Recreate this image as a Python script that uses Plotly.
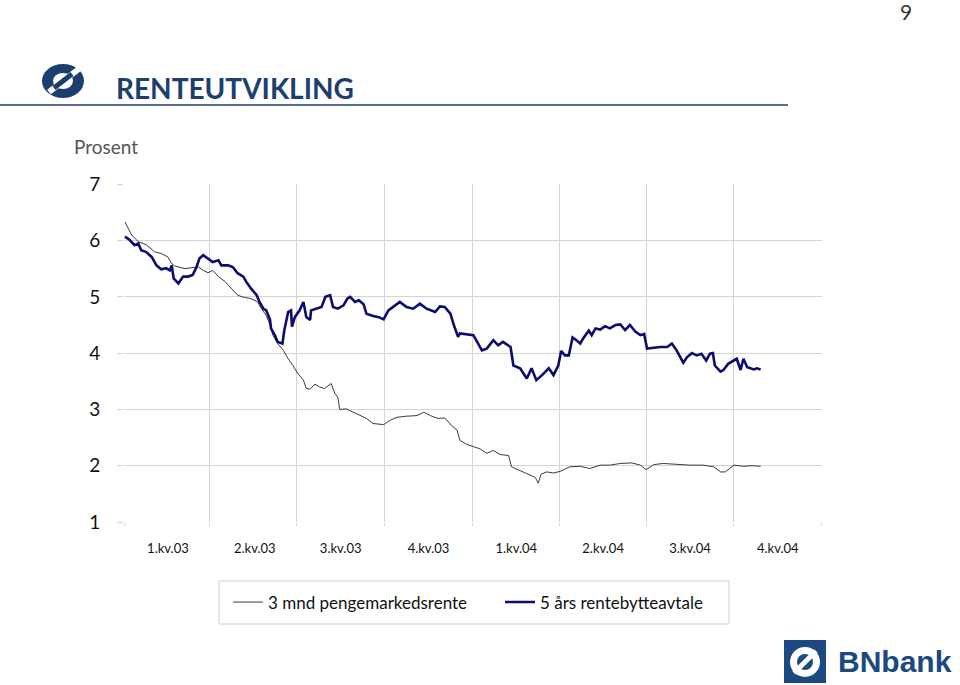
import plotly.graph_objects as go
import pandas as pd

# ---------------- data ----------------
BASE_DATE = "2003-01-01"

# 3 mnd pengemarkedsrente: days since 1 Jan 2003, and percent
mm3_days = [1, 8, 15, 23, 32, 39, 46, 50, 53, 64, 71, 78, 83, 88, 93, 99, 106, 112, 119, 126,
            133, 140, 144, 149, 153, 156, 161, 167, 172, 177, 182, 188, 191, 195, 200, 205, 210, 217, 221, 224,
            226, 233, 240, 247, 254, 261, 272, 279, 286, 296, 307, 314, 321, 329, 336, 343, 349, 352, 359, 366,
            373, 380, 387, 394, 403, 406, 415, 422, 431, 434, 437, 443, 450, 457, 467, 478, 488, 499, 509, 520,
            532, 541, 547, 555, 565, 579, 593, 607, 618, 625, 630, 639, 649, 658, 667]
mm3_vals = [6.33, 6.10, 5.98, 5.93, 5.80, 5.77, 5.71, 5.59, 5.55, 5.50, 5.52, 5.53, 5.47, 5.43, 5.47, 5.36, 5.27, 5.15, 5.03, 4.99,
            4.97, 4.91, 4.79, 4.67, 4.50, 4.32, 4.17, 4.05, 3.90, 3.78, 3.64, 3.52, 3.37, 3.36, 3.45, 3.40, 3.37, 3.46, 3.28, 3.22,
            3.00, 3.01, 2.95, 2.89, 2.84, 2.75, 2.73, 2.81, 2.86, 2.88, 2.89, 2.95, 2.89, 2.84, 2.85, 2.72, 2.63, 2.45, 2.38, 2.34,
            2.30, 2.22, 2.27, 2.20, 2.18, 1.98, 1.92, 1.86, 1.79, 1.69, 1.85, 1.89, 1.87, 1.90, 1.98, 1.99, 1.95, 2.01, 2.01, 2.04,
            2.05, 2.01, 1.93, 2.02, 2.04, 2.02, 2.01, 2.01, 1.98, 1.89, 1.89, 2.01, 1.99, 2.00, 1.99]

# 5 års rentebytteavtale
swap_days = [1, 6, 11, 15, 18, 23, 29, 34, 39, 44, 48, 50, 52, 57, 62, 67, 72, 76, 79, 83,
             88, 93, 99, 102, 109, 114, 119, 125, 128, 133, 139, 142, 146, 149, 153, 154, 158, 161, 166, 168,
             172, 175, 176, 179, 184, 188, 191, 195, 196, 202, 207, 211, 216, 219, 224, 230, 234, 237, 242, 246,
             251, 254, 261, 267, 272, 277, 282, 289, 296, 303, 310, 317, 326, 331, 336, 342, 345, 350, 352, 359,
             366, 369, 375, 380, 387, 392, 397, 405, 408, 415, 422, 427, 432, 438, 445, 450, 455, 458, 462, 466,
             470, 474, 478, 481, 487, 490, 494, 499, 504, 509, 515, 520, 525, 530, 536, 541, 545, 548, 555, 562,
             569, 574, 579, 583, 586, 590, 595, 600, 605, 610, 614, 617, 619, 625, 628, 633, 639, 642, 646, 649,
             653, 660, 663, 667]
swap_vals = [6.07, 6.01, 5.92, 5.95, 5.83, 5.80, 5.71, 5.56, 5.49, 5.51, 5.47, 5.56, 5.33, 5.24, 5.36, 5.36, 5.39, 5.53, 5.68, 5.74,
             5.68, 5.62, 5.65, 5.56, 5.56, 5.53, 5.42, 5.36, 5.27, 5.15, 5.03, 4.91, 4.79, 4.76, 4.59, 4.44, 4.32, 4.20, 4.17, 4.41,
             4.73, 4.76, 4.47, 4.64, 4.76, 4.91, 4.64, 4.59, 4.76, 4.79, 4.82, 5.00, 5.03, 4.82, 4.79, 4.85, 4.97, 5.00, 4.91, 4.94,
             4.87, 4.70, 4.66, 4.64, 4.60, 4.76, 4.82, 4.91, 4.82, 4.79, 4.88, 4.79, 4.73, 4.83, 4.82, 4.70, 4.53, 4.29, 4.35, 4.34,
             4.32, 4.23, 4.05, 4.08, 4.23, 4.14, 4.20, 4.11, 3.78, 3.73, 3.55, 3.73, 3.52, 3.61, 3.73, 3.61, 3.78, 4.04, 3.96, 3.96,
             4.28, 4.23, 4.17, 4.26, 4.40, 4.32, 4.44, 4.42, 4.48, 4.44, 4.50, 4.51, 4.41, 4.50, 4.38, 4.32, 4.34, 4.08, 4.10, 4.11,
             4.11, 4.17, 4.05, 3.93, 3.83, 3.93, 4.00, 3.96, 3.99, 3.87, 3.99, 4.00, 3.78, 3.67, 3.70, 3.81, 3.87, 3.90, 3.70, 3.90,
             3.75, 3.71, 3.73, 3.71]

quarter_starts = ["2003-01-01", "2003-04-01", "2003-07-01", "2003-10-01", "2004-01-01",
                  "2004-04-01", "2004-07-01", "2004-10-01", "2005-01-01"]
quarter_mids = ["2003-02-16", "2003-05-18", "2003-08-16", "2003-11-16",
                "2004-02-16", "2004-05-17", "2004-08-16", "2004-11-16"]
quarter_labels = ["1.kv.03", "2.kv.03", "3.kv.03", "4.kv.03",
                  "1.kv.04", "2.kv.04", "3.kv.04", "4.kv.04"]
y_ticks = [1, 2, 3, 4, 5, 6, 7]

series_names = ["3 mnd pengemarkedsrente", "5 års rentebytteavtale"]

# ---------------- figure ----------------
W, H = 960, 685
FONT = "Lato, 'Open Sans', sans-serif"
NAVY = "#1d3f70"
GRID = "#d4d4d4"


def fx(px):
    return px / W


def fy(py):
    return 1 - py / H


base = pd.Timestamp(BASE_DATE)
mm3_dates = base + pd.to_timedelta(mm3_days, unit="D")
swap_dates = base + pd.to_timedelta(swap_days, unit="D")

fig = go.Figure()
fig.add_trace(go.Scatter(x=mm3_dates, y=mm3_vals, mode="lines", name=series_names[0],
                         line=dict(color="#3a3a3a", width=1)))
fig.add_trace(go.Scatter(x=swap_dates, y=swap_vals, mode="lines", name=series_names[1],
                         line=dict(color="#0b0b70", width=2.6)))
# helper trace so the label axis is drawn
fig.add_trace(go.Scatter(x=[quarter_starts[0], quarter_starts[-1]], y=[None, None], xaxis="x2",
                         mode="lines", showlegend=False, hoverinfo="skip"))

xdom = [fx(124), fx(821.7)]
ydom = [fy(522), fy(184.3)]

fig.update_layout(
    width=W, height=H,
    margin=dict(l=0, r=0, t=0, b=0, autoexpand=False),
    paper_bgcolor="white", plot_bgcolor="white",
    font=dict(family=FONT, color="#111"),
    showlegend=True,
    legend=dict(orientation="h", x=fx(228), xanchor="left", y=fy(602.5), yanchor="middle",
                bgcolor="rgba(0,0,0,0)", borderwidth=0, font=dict(size=17, color="#111"),
                entrywidth=227, entrywidthmode="pixels", tracegroupgap=0),
    xaxis=dict(domain=xdom, type="date", range=[quarter_starts[0], quarter_starts[-1]],
               tickmode="array", tickvals=quarter_starts, showticklabels=False,
               showgrid=True, gridcolor=GRID, gridwidth=1, ticks="outside", ticklen=3,
               tickcolor=GRID, showline=False, zeroline=False, fixedrange=True),
    xaxis2=dict(domain=xdom, type="date", overlaying="x", anchor="y",
                range=[quarter_starts[0], quarter_starts[-1]],
                tickmode="array", tickvals=quarter_mids, ticktext=quarter_labels,
                showgrid=False, ticks="", showline=False, zeroline=False,
                tickfont=dict(size=13, color="#111"), ticklabelstandoff=17, side="bottom"),
    yaxis=dict(domain=ydom, range=[1, 7], tickmode="array", tickvals=y_ticks,
               showgrid=True, gridcolor=GRID, gridwidth=1, ticks="outside", ticklen=6,
               tickcolor=GRID, showline=False, zeroline=False,
               tickfont=dict(size=19, color="#111"), ticklabelstandoff=13),
)

shapes = []
# legend box
shapes.append(dict(type="rect", xref="paper", yref="paper", x0=fx(219), x1=fx(729), y0=fy(624), y1=fy(581),
                   line=dict(color="#cfcfcf", width=1), fillcolor="rgba(0,0,0,0)", layer="below"))
# title rule
shapes.append(dict(type="line", xref="paper", yref="paper", x0=fx(0), x1=fx(788), y0=fy(105), y1=fy(105),
                   line=dict(color=NAVY, width=1.6)))
# top-left logo (approximation)
shapes.append(dict(type="circle", xref="paper", yref="paper", x0=fx(42), x1=fx(84), y0=fy(98), y1=fy(64),
                   fillcolor=NAVY, line=dict(width=0)))
shapes.append(dict(type="line", xref="paper", yref="paper", x0=fx(49), x1=fx(80), y0=fy(92), y1=fy(68),
                   line=dict(color="white", width=6)))
shapes.append(dict(type="circle", xref="paper", yref="paper", x0=fx(53), x1=fx(73), y0=fy(89), y1=fy(73),
                   fillcolor="white", line=dict(width=0)))
shapes.append(dict(type="line", xref="paper", yref="paper", x0=fx(54), x1=fx(72), y0=fy(88), y1=fy(74),
                   line=dict(color=NAVY, width=5)))
# bottom-right BN bank logo mark
shapes.append(dict(type="rect", xref="paper", yref="paper", x0=fx(784), x1=fx(826), y0=fy(683), y1=fy(640),
                   fillcolor="#1a4a80", line=dict(width=0)))
shapes.append(dict(type="circle", xref="paper", yref="paper", x0=fx(790), x1=fx(820), y0=fy(677), y1=fy(647),
                   fillcolor="white", line=dict(width=0)))
shapes.append(dict(type="circle", xref="paper", yref="paper", x0=fx(797), x1=fx(813), y0=fy(670), y1=fy(654),
                   fillcolor="#1a4a80", line=dict(width=0)))
shapes.append(dict(type="line", xref="paper", yref="paper", x0=fx(794), x1=fx(816), y0=fy(673), y1=fy(651),
                   line=dict(color="white", width=5)))
fig.update_layout(shapes=shapes)

annotations = [
    dict(text="9", x=fx(906), y=fy(11), xref="paper", yref="paper", showarrow=False,
         font=dict(size=21, color="#333", family=FONT), xanchor="center", yanchor="middle"),
    dict(text="<b>RENTEUTVIKLING</b>", x=fx(114), y=fy(88), xref="paper", yref="paper", showarrow=False,
         font=dict(size=28, color=NAVY, family=FONT), xanchor="left", yanchor="middle"),
    dict(text="Prosent", x=fx(72), y=fy(147), xref="paper", yref="paper", showarrow=False,
         font=dict(size=19, color="#555", family=FONT), xanchor="left", yanchor="middle"),
    dict(text="<b>BNbank</b>", x=fx(836), y=fy(661), xref="paper", yref="paper", showarrow=False,
         font=dict(size=30, color="#1a4a80", family="'Liberation Sans', Arial, sans-serif"),
         xanchor="left", yanchor="middle"),
]
fig.update_layout(annotations=annotations)

fig.write_html("out.html", config={"displayModeBar": False})
